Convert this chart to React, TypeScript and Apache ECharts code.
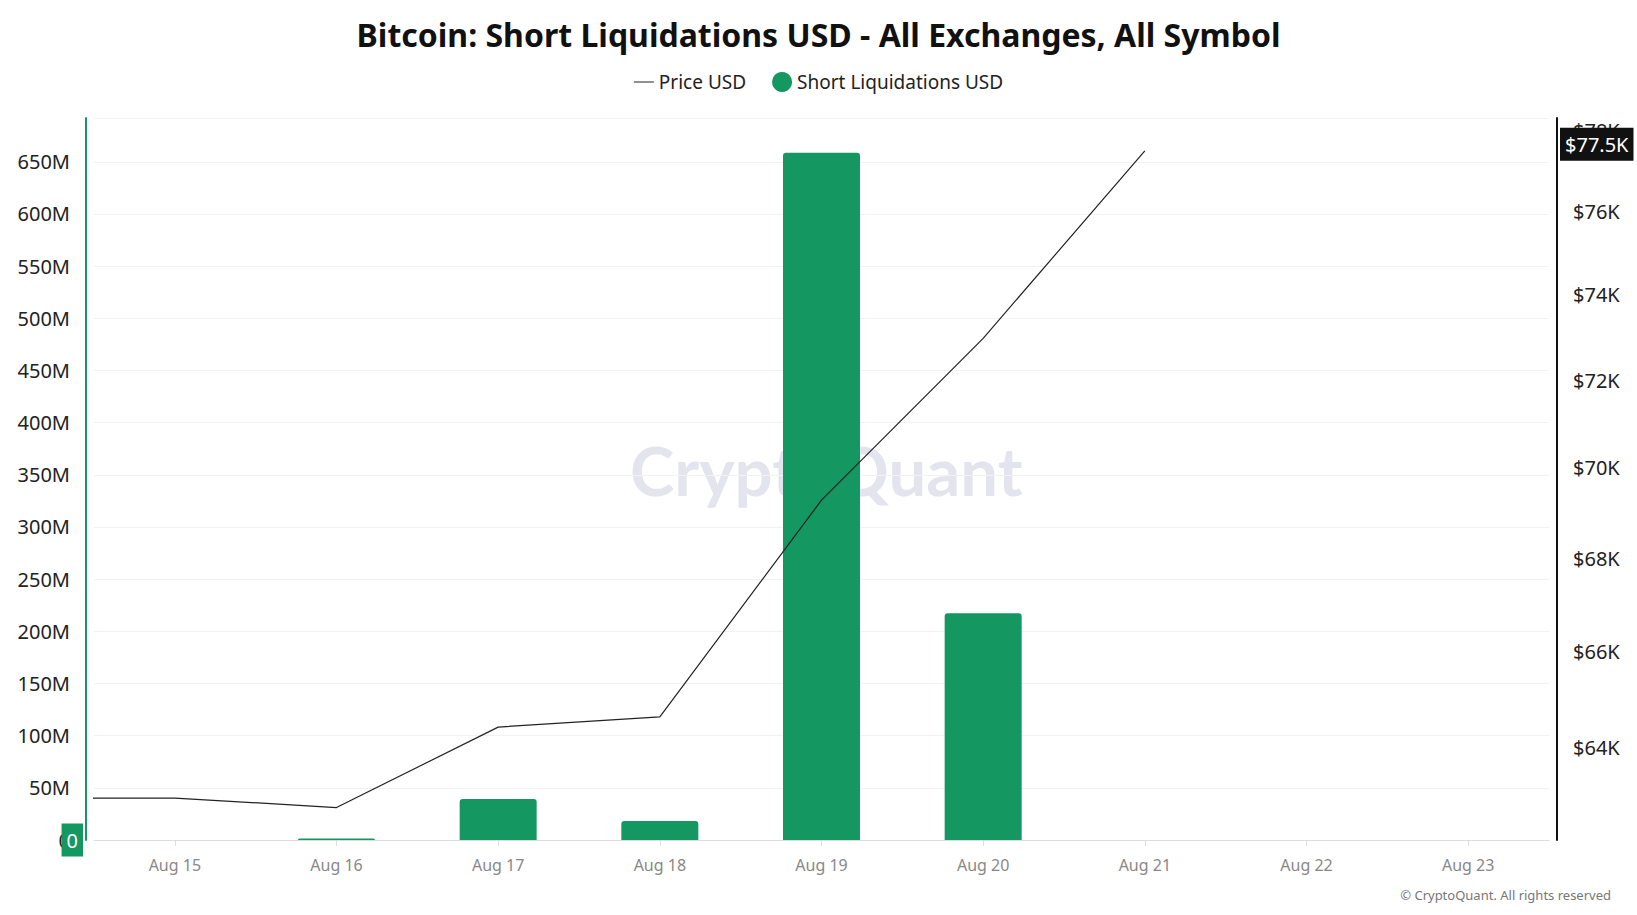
import React, { useEffect, useRef } from "react";
import * as echarts from "echarts";

const dates = ["Aug 15", "Aug 16", "Aug 17", "Aug 18", "Aug 19", "Aug 20", "Aug 21", "Aug 22", "Aug 23"];
// Short liquidations in millions USD, one per date
const shortLiqM = [0, 1.5, 39.3, 18.2, 658.6, 217.3, 0, 0, 0];
// Price series: index -1 is the point just before Aug 15 (clipped at the grid edge)
const priceIdx = [-1, 0, 1, 2, 3, 4, 5, 6];
const priceUSD = [62970, 62970, 62780, 64420, 64630, 69280, 72970, 77490];
const priceTicks = [64000, 66000, 68000, 70000, 72000, 74000, 76000, 78000];
const priceMin = 62130;
const priceMax = 78310;
const lastPriceLabel = "$77.5K";

const GREEN = "#149760";
const FONT = "Noto Sans";

export default function App() {
  const ref = useRef<HTMLDivElement>(null);
  useEffect(() => {
    document.body.style.margin = "0";
    const chart = echarts.init(ref.current!, undefined, { renderer: "svg" });
    const lnTicks = priceTicks.map((p) => Math.log(p));
    const hiddenLine = { color: "rgba(0,0,0,0)", width: 0 };
    const boxLabel = (text: string, bg: string, position: string) => ({
      show: true,
      position,
      distance: 11,
      formatter: "{b|" + text + "}",
      rich: {
        b: {
          color: "#fff",
          backgroundColor: bg,
          fontSize: 20,
          lineHeight: 24,
          height: 24,
          padding: [5, 5, 4, 5],
          fontFamily: FONT,
        },
      },
    });
    const option: any = {
      animation: false,
      textStyle: { fontFamily: FONT },
      title: {
        text: "Bitcoin: Short Liquidations USD - All Exchanges, All Symbol",
        left: "center",
        top: 13,
        textStyle: { fontSize: 32, fontWeight: "bold", color: "#111", fontFamily: FONT },
      },
      legend: {
        top: 67,
        left: "center",
        itemGap: 26,
        itemWidth: 20,
        itemHeight: 20,
        textStyle: { fontSize: 19, color: "#222", fontFamily: FONT },
        data: [
          { name: "Price USD", icon: "path://M0,9.5L20,9.5L20,10.5L0,10.5Z", itemStyle: { color: "#222" } },
          { name: "Short Liquidations USD", icon: "circle" },
        ],
      },
      graphic: [
        {
          type: "text",
          left: 630,
          top: 436,
          silent: true,
          z: 0,
          style: {
            text: "CryptoQuant",
            fontSize: 67,
            fontWeight: "bold",
            fontFamily: "Lato",
            fill: "#e4e4ee",
          },
        },
        {
          type: "text",
          right: 26,
          top: 888,
          style: {
            text: "© CryptoQuant. All rights reserved",
            fontSize: 13,
            fontFamily: FONT,
            fill: "#777",
          },
        },
      ],
      grid: { left: 94, right: 88, top: 118, bottom: 75 },
      xAxis: {
        type: "value",
        min: -0.5,
        max: 8.5,
        axisLine: { show: true, onZero: false, lineStyle: { color: "#dcdce6", width: 1 } },
        axisTick: { show: true, customValues: dates.map((_, i) => i), length: 6, lineStyle: { color: "#dcdce6" } },
        axisLabel: {
          customValues: dates.map((_, i) => i),
          formatter: (v: number) => dates[Math.round(v)] ?? "",
          color: "#888",
          fontSize: 16,
          margin: 17,
          fontFamily: FONT,
        },
        splitLine: { show: false },
      },
      yAxis: [
        {
          type: "value",
          min: 0,
          max: 692,
          interval: 50,
          offset: 8,
          position: "left",
          axisLine: { show: true, onZero: false, lineStyle: { color: GREEN, width: 2 } },
          axisTick: { show: false },
          axisLabel: {
            formatter: (v: number) => (v === 0 ? "0" : v + "M"),
            color: "#222",
            fontSize: 20,
            margin: 16,
            showMaxLabel: false,
            fontFamily: FONT,
          },
          splitLine: { show: true, lineStyle: { color: "#f2f2f4", width: 1 } },
        },
        {
          type: "value",
          min: Math.log(priceMin),
          max: Math.log(priceMax),
          offset: 8,
          position: "right",
          axisLine: { show: true, onZero: false, lineStyle: { color: "#111", width: 2 } },
          axisTick: { show: false },
          axisLabel: {
            customValues: lnTicks,
            formatter: (v: number) => "$" + Math.round(Math.exp(v) / 1000) + "K",
            color: "#222",
            fontSize: 20,
            margin: 16,
            fontFamily: FONT,
          },
          splitLine: { show: false },
        },
      ],
      series: [
        {
          name: "Short Liquidations USD",
          type: "bar",
          yAxisIndex: 0,
          barWidth: 77,
          itemStyle: { color: GREEN, borderRadius: [3, 3, 0, 0] },
          data: shortLiqM.map((v, i) => [i, v]),
          markLine: {
            silent: true,
            symbol: "none",
            lineStyle: hiddenLine,
            data: [{ yAxis: shortLiqM[shortLiqM.length - 1] }],
            label: boxLabel("0", GREEN, "start"),
          },
        },
        {
          name: "Price USD",
          type: "line",
          yAxisIndex: 1,
          symbol: "none",
          clip: true,
          z: 5,
          lineStyle: { color: "#222", width: 1.2 },
          itemStyle: { color: "#222" },
          data: priceIdx.map((x, i) => [x, Math.log(priceUSD[i])]),
          markLine: {
            silent: true,
            symbol: "none",
            lineStyle: hiddenLine,
            data: [{ yAxis: Math.log(priceUSD[priceUSD.length - 1]) }],
            label: boxLabel(lastPriceLabel, "#111", "end"),
          },
        },
      ],
    };
    chart.setOption(option);
    return () => chart.dispose();
  }, []);
  return <div ref={ref} style={{ width: 1637, height: 915, position: "absolute", left: 0, top: 0, background: "#fff" }} />;
}
